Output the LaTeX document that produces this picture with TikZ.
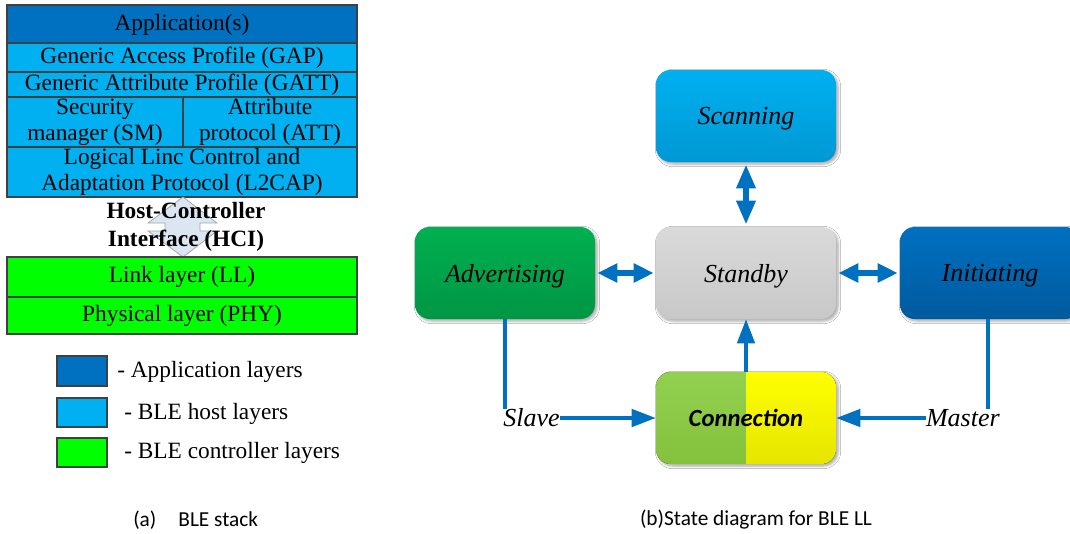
\documentclass[tikz,border=0pt]{standalone}
\usepackage{fontspec}
\setmainfont{Liberation Serif}
\newfontfamily\capfont{Carlito}
\usetikzlibrary{arrows.meta,shadows.blur}

\definecolor{appblue}{HTML}{0070C0}
\definecolor{hostblue}{HTML}{00B0F0}
\definecolor{ctrlgreen}{HTML}{00FF00}
\definecolor{linkblue}{HTML}{0070C0}
\definecolor{hciface}{HTML}{DCE6F2}
\definecolor{hciedge}{HTML}{A6A6A6}

\tikzset{
  layerbox/.style={draw=black!75, line width=0.8pt},
  layertext/.style={font=\fontsize{17.5}{19.5}\selectfont, align=center, inner sep=0pt},
  state/.style={rounded corners=11pt, minimum width=135pt, minimum height=69pt, inner sep=0pt,
    text depth=0pt,
    font=\fontsize{19.5}{22}\selectfont\itshape,
    blur shadow={shadow xshift=1.5pt, shadow yshift=-1.5pt, shadow blur steps=6,
      shadow opacity=35, shadow blur radius=2pt}},
  twoway/.style={draw=linkblue, line width=4.5pt,
    {Triangle[length=#1,width=13.5pt]}-{Triangle[length=#1,width=13.5pt]}},
  twoway/.default=15pt,
  oneway/.style={draw=linkblue, line width=2.6pt, -{Triangle[length=18pt,width=13pt]}},
  plainlink/.style={draw=linkblue, line width=2.6pt},
  role/.style={font=\fontsize{19.5}{22}\selectfont\itshape, inner sep=0pt},
  caption/.style={font=\capfont\fontsize{16}{18}\selectfont, inner sep=0pt},
}

\begin{document}
\begin{tikzpicture}[x=0.75pt, y=-0.75pt]
\fill[white] (0,0) rectangle (1070,533);
\useasboundingbox (0,0) rectangle (1070,533);

% ---------- (a) BLE protocol stack ----------
\draw[layerbox, fill=appblue]  (7,5)    rectangle (357,43);
\draw[layerbox, fill=hostblue] (7,43)   rectangle (357,72);
\draw[layerbox, fill=hostblue] (7,72)   rectangle (357,97);
\draw[layerbox, fill=hostblue] (7,97)   rectangle (183,147);
\draw[layerbox, fill=hostblue] (183,97) rectangle (357,147);
\draw[layerbox, fill=hostblue] (7,147)  rectangle (357,197);

\node[layertext] (app)   at (182,25)  {Application(s)};
\node[layertext] (gap)   at (182,58)  {Generic Access Profile (GAP)};
\node[layertext] (gatt)  at (182,85)  {Generic Attribute Profile (GATT)};
\node[layertext] (sm)    at (95,122)  {Security\\manager (SM)};
\node[layertext] (att)   at (270,122) {Attribute\\protocol (ATT)};
\node[layertext] (l2cap) at (182,172) {Logical Linc Control and\\Adaptation Protocol (L2CAP)};

% host-controller interface: up/down block arrow behind the label
\draw[hciedge, fill=hciface, line width=0.6pt]
  (183,197) -- (217,223) -- (200,223) -- (200,231) -- (217,231) -- (183,257)
  -- (148,231) -- (165,231) -- (165,223) -- (148,223) -- cycle;
\node[layertext, font=\fontsize{17.5}{19.5}\selectfont\bfseries] (hci) at (186,227)
  {Host-Controller\\[2pt]Interface (HCI)};

\draw[layerbox, fill=ctrlgreen] (7,257) rectangle (357,297);
\draw[layerbox, fill=ctrlgreen] (7,297) rectangle (357,334);
\node[layertext] (ll)  at (182,277) {Link layer (LL)};
\node[layertext] (phy) at (182,316) {Physical layer (PHY)};

% legend
\draw[layerbox, fill=appblue]   (57,356) rectangle (107,386);
\draw[layerbox, fill=hostblue]  (57,398) rectangle (107,427);
\draw[layerbox, fill=ctrlgreen] (57,438) rectangle (107,467);
\node[layertext, anchor=west] (lgapp)  at (117,372) {- Application layers};
\node[layertext, anchor=west] (lghost) at (124,414) {- BLE host layers};
\node[layertext, anchor=west] (lgctrl) at (124,453) {- BLE controller layers};

\node[caption, anchor=west] (capa) at (133,520) {(a)\hspace{16.5pt}BLE stack};

% ---------- (b) link-layer state diagram ----------
\node[state, top color=hostblue, bottom color={rgb,255:red,0;green,152;blue,212}]
  (scan) at (746,116) {Scanning};
\node[state, top color={rgb,255:red,0;green,176;blue,80}, bottom color={rgb,255:red,0;green,150;blue,68}]
  (adv) at (505,273) {Advertising};
\node[state, top color={rgb,255:red,218;green,218;blue,218}, bottom color={rgb,255:red,200;green,200;blue,200}]
  (stand) at (746,273) {Standby};
\node[state, top color=appblue, bottom color={rgb,255:red,0;green,90;blue,158}]
  (init) at (990,273) {Initiating};
\node[state, font=\capfont\fontsize{18.5}{22}\selectfont\bfseries\itshape,
  path picture={
    \fill[sharp corners, top color={rgb,255:red,146;green,208;blue,80}, bottom color={rgb,255:red,132;green,194;blue,60}]
      (path picture bounding box.north west) rectangle (path picture bounding box.south);
    \fill[sharp corners, top color={rgb,255:red,255;green,255;blue,0}, bottom color={rgb,255:red,229;green,229;blue,0}]
      (path picture bounding box.north) rectangle (path picture bounding box.south east);
  }] (conn) at (746,418) {Connection};

\draw[twoway=18pt] ([yshift=-1.5pt]scan.south) -- ([yshift=1.5pt]stand.north);
\draw[twoway] ([xshift=1.5pt]adv.east) -- ([xshift=-1.5pt]stand.west);
\draw[twoway] ([xshift=1.5pt]stand.east) -- ([xshift=-1.5pt]init.west);
\draw[oneway] (conn.north) -- (stand.south);

\node[role, anchor=west] (slave) at (503,418) {Slave};
\draw[plainlink] (adv.south) -- (adv.south |- slave.north);
\draw[oneway] (slave.east) -- (conn.west);

\node[role, anchor=east] (master) at (1000,418) {Master};
\draw[plainlink] ([xshift=-1.5pt]init.south) -- ([xshift=-1.5pt]init.south |- master.north);
\draw[oneway] (master.west) -- (conn.east);

\node[caption] (capb) at (756,520) {(b)State diagram for BLE LL};
\end{tikzpicture}
\end{document}
